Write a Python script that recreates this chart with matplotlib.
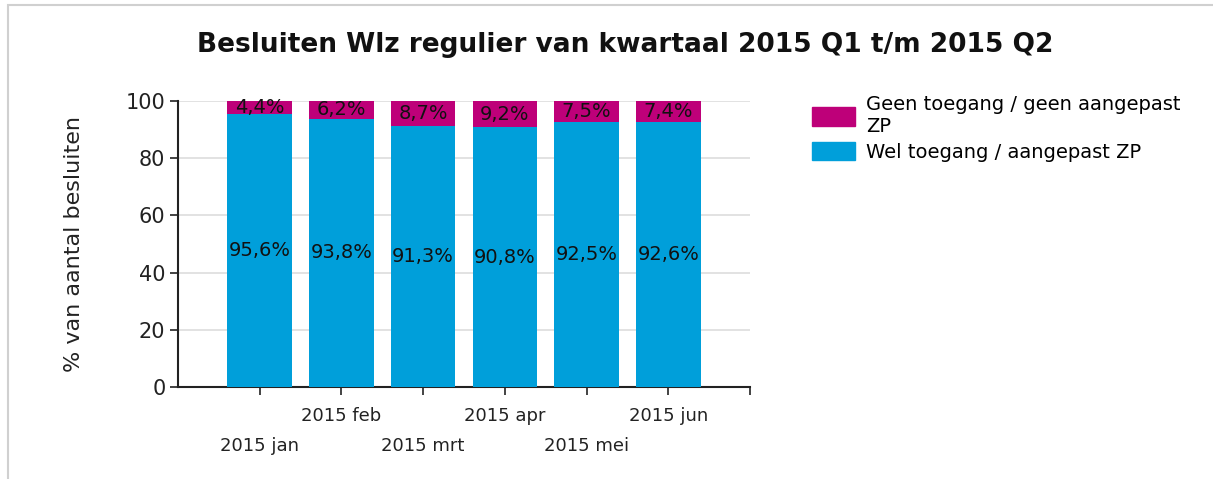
import matplotlib
matplotlib.use("Agg")
import matplotlib.pyplot as plt
from matplotlib.patches import Rectangle, Patch
import numpy as np

categories = ["2015 jan", "2015 feb", "2015 mrt", "2015 apr", "2015 mei", "2015 jun"]
wel = [95.6, 93.8, 91.3, 90.8, 92.5, 92.6]
geen = [4.4, 6.2, 8.7, 9.2, 7.5, 7.4]
wel_labels = ["95,6%", "93,8%", "91,3%", "90,8%", "92,5%", "92,6%"]
geen_labels = ["4,4%", "6,2%", "8,7%", "9,2%", "7,5%", "7,4%"]
series_names = ["Geen toegang / geen aangepast\nZP", "Wel toegang / aangepast ZP"]
title = "Besluiten Wlz regulier van kwartaal 2015 Q1 t/m 2015 Q2"
ylabel = "% van aantal besluiten"

c_geen = "#BE0079"
c_wel = "#009FDA"

plt.rcParams["font.family"] = ["DejaVu Sans"]
fig = plt.figure(figsize=(12.13, 4.79), dpi=100)
ax = fig.add_axes([178/1213, 1-387/479, (750-178)/1213, (387-101)/479])

x = np.arange(len(categories))
w = 0.79
ax.bar(x, wel, width=w, color=c_wel, zorder=3)
ax.bar(x, geen, width=w, bottom=wel, color=c_geen, zorder=3)

for i in range(len(categories)):
    ax.text(x[i], wel[i]/2, wel_labels[i], ha="center", va="center", fontsize=14, color="#111111", zorder=4)
    ax.text(x[i], wel[i] + geen[i]/2, geen_labels[i], ha="center", va="center", fontsize=14, color="#111111", zorder=4)

ax.set_xlim(-1, 6)
ax.set_ylim(0, 100)
ax.set_yticks([0, 20, 40, 60, 80, 100])
ax.tick_params(axis="y", labelsize=15, length=6, width=1.2, colors="#222222", pad=3)
ax.set_xticks(list(x) + [6])
ax.set_xticklabels([""] * 7)
ax.tick_params(axis="x", length=6, width=1.2, colors="#222222")
for i, lab in enumerate(categories):
    off = -0.10 if i % 2 == 1 else -0.205
    ax.text(x[i], off, lab, transform=ax.get_xaxis_transform(), ha="center", va="center",
            fontsize=13, color="#222222")

ax.grid(axis="y", color="#dddddd", linewidth=1.2, zorder=0)
for s in ["top", "right"]:
    ax.spines[s].set_visible(False)
for s in ["left", "bottom"]:
    ax.spines[s].set_linewidth(1.5)
    ax.spines[s].set_color("#222222")

ax.set_ylabel(ylabel, fontsize=16, color="#222222", labelpad=30)

fig.text(625/1213, 1-45/479, title, ha="center", va="center", fontsize=19, fontweight="bold", color="#111111")

handles = [Patch(color=c_geen), Patch(color=c_wel)]
leg = fig.legend(handles, series_names, loc="upper left", bbox_to_anchor=(804/1213, 1-87/479),
                 frameon=False, fontsize=14, handlelength=2.2, handleheight=1.1,
                 handletextpad=0.6, labelspacing=0.3, borderaxespad=0)

fig.add_artist(Rectangle((8/1213, -0.01), 1.1, 1-5/479 + 0.01, transform=fig.transFigure,
                         fill=False, edgecolor="#d0d0d0", linewidth=1.5))

fig.savefig("out.png", dpi=100)
